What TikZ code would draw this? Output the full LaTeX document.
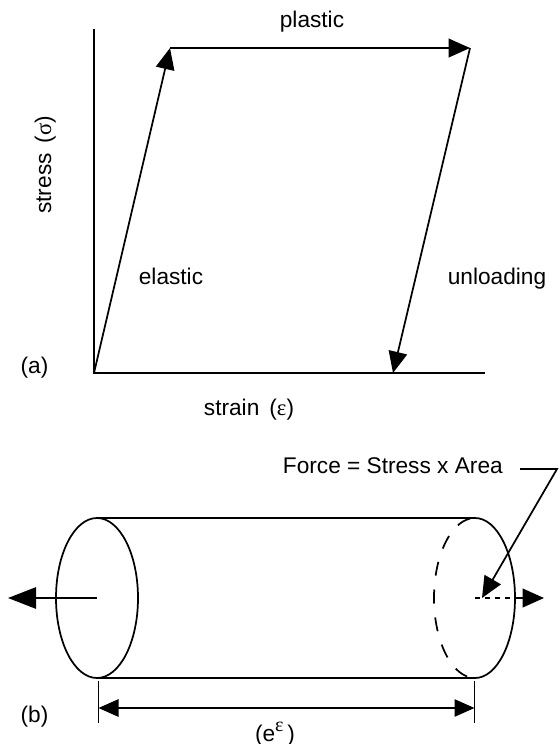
\documentclass[tikz,border=0pt]{standalone}
\usepackage{fontspec}
\setmainfont{Liberation Sans}
\newfontfamily\greekfont{Liberation Serif}
\usetikzlibrary{arrows.meta}
\tikzset{
  lbl/.style={font=\fontsize{17}{20}\selectfont, inner sep=0pt, anchor=base},
  ink/.style={line width=1.3pt, line join=miter},
  tipA/.style={-{Triangle[length=16pt,width=14pt]}},
  tipB/.style={-{Triangle[length=21pt,width=16pt]}},
}
\begin{document}
\begin{tikzpicture}[x=0.75pt,y=-0.75pt]
\useasboundingbox (0,0) rectangle (558,744);

\coordinate (top) at (94,29);
\coordinate (O) at (94,373);
\coordinate (end) at (485,373);
\coordinate (yield) at (170,48);
\coordinate (peak) at (470,48);
\coordinate (rest) at (393,373);

\draw[ink] (top) -- (O) -- (end);
\draw[ink, tipA] (O) -- (yield);
\draw[ink, tipA] (yield) -- (peak);
\draw[ink, tipA] (peak) -- (rest);

\node[lbl] at (312,27) {plastic};
\node[lbl] at (171,284) {elastic};
\node[lbl] at (497,284) {unloading};
\node[lbl] at (249,415) {strain\, ({\greekfont ε})};
\node[lbl, rotate=90, anchor=base west] at (51,214) {stress\, ({\greekfont σ})};
\node[lbl] at (34.5,373) {(a)};

\coordinate (lc) at (97,598);
\coordinate (rc) at (475,598);
\coordinate (lt) at (97,518);
\coordinate (lb) at (97,678);
\coordinate (rt) at (475,518);
\coordinate (rb) at (475,678);

\draw[ink] (lc) ellipse [x radius=41, y radius=80];
\draw[ink] (lt) -- (rt) arc [start angle=90, end angle=-90, x radius=40, y radius=-80];
\draw[ink] (lb) -- (rb);
\draw[ink, dash pattern=on 10.5pt off 10.5pt, dash phase=17.25pt] (rt) arc [start angle=90, end angle=270, x radius=41, y radius=-80];

\coordinate (lfar) at (8,598);
\coordinate (rmid) at (516,598);
\coordinate (rfar) at (544,598);
\draw[ink, tipB] (lc) -- (lfar);
\draw[ink, dash pattern=on 4pt off 3.5pt] (rc) -- (rmid);
\draw[ink, tipA] (rmid) -- (rfar);

\node[lbl, anchor=base east] (force) at (503,473) {Force = Stress x Area};
\coordinate (lead) at (520,469);
\coordinate (kink) at (557,469);
\coordinate (hit) at (482,598);
\draw[ink, tipA] (lead) -- (kink) -- (hit);

\coordinate (dl1) at (98.5,681);
\coordinate (dl2) at (98.5,723);
\coordinate (dr1) at (474.5,681);
\coordinate (dr2) at (474.5,723);
\coordinate (dl) at (98.5,708);
\coordinate (dr) at (474.5,708);
\draw[ink] (dl1) -- (dl2);
\draw[ink] (dr1) -- (dr2);
\draw[ink, {Triangle[length=15pt,width=13pt]}-{Triangle[length=15pt,width=13pt]}] (dl) -- (dr);

\node[lbl] at (275,741) {(e\raisebox{0.42em}{\fontsize{15}{15}\selectfont\greekfont ε}\,)};
\node[lbl] at (34.5,722) {(b)};
\end{tikzpicture}
\end{document}
